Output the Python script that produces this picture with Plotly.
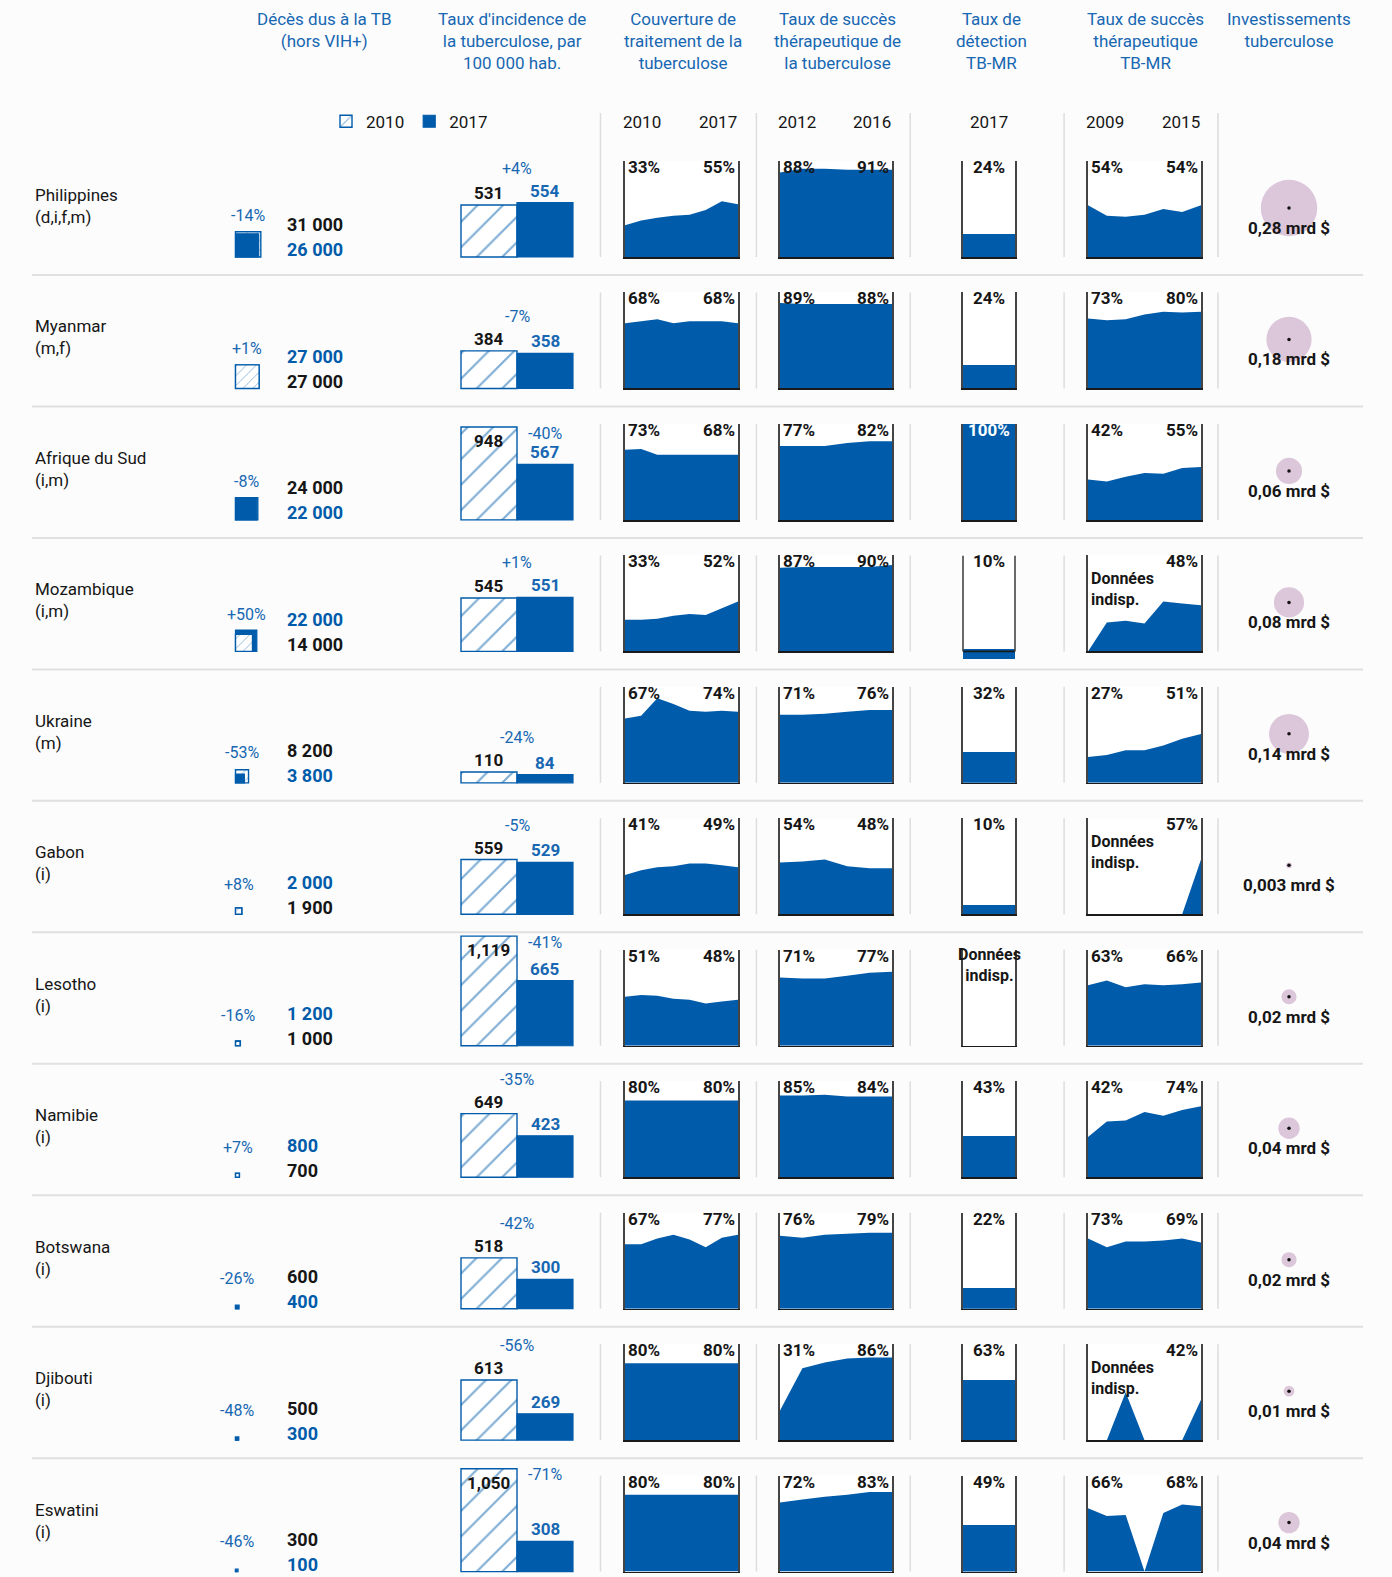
import plotly.graph_objects as go

# ---------------- DATA ----------------
countries = ["Philippines", "Myanmar", "Afrique du Sud", "Mozambique", "Ukraine", "Gabon",
             "Lesotho", "Namibie", "Botswana", "Djibouti", "Eswatini"]
country_notes = ["(d,i,f,m)", "(m,f)", "(i,m)", "(i,m)", "(m)", "(i)", "(i)", "(i)", "(i)", "(i)", "(i)"]

deaths_2010 = [31000, 27000, 24000, 14000, 8200, 1900, 1000, 700, 600, 500, 300]
deaths_2017 = [26000, 27000, 22000, 22000, 3800, 2000, 1200, 800, 400, 300, 100]
deaths_change = ["-14%", "+1%", "-8%", "+50%", "-53%", "+8%", "-16%", "+7%", "-26%", "-48%", "-46%"]

incidence_2010 = [531, 384, 948, 545, 110, 559, 1119, 649, 518, 613, 1050]
incidence_2017 = [554, 358, 567, 551, 84, 529, 665, 423, 300, 269, 308]
incidence_change = ["+4%", "-7%", "-40%", "+1%", "-24%", "-5%", "-41%", "-35%", "-42%", "-56%", "-71%"]

coverage_years = [2010, 2011, 2012, 2013, 2014, 2015, 2016, 2017]
coverage = [
    [33, 38, 41, 43, 44, 49, 58, 55],
    [68, 70, 72, 68, 70, 70, 70, 68],
    [73, 74, 68, 68, 68, 68, 68, 68],
    [33, 33, 34, 37, 39, 38, 45, 52],
    [67, 70, 88, 82, 75, 74, 75, 74],
    [41, 46, 49, 50, 53, 53, 51, 49],
    [51, 53, 52, 49, 48, 44, 46, 48],
    [80, 80, 80, 80, 80, 80, 80, 80],
    [67, 67, 73, 77, 72, 64, 74, 77],
    [80, 80, 80, 80, 80, 80, 80, 80],
    [80, 80, 80, 80, 80, 80, 80, 80],
]

success_years = [2011, 2012, 2013, 2014, 2015, 2016]
success = [
    [88, 92, 92, 91, 91, 91],
    [89, 88, 88, 88, 88, 88],
    [77, 77, 77, 80, 82, 82],
    [87, 88, 88, 88, 88, 90],
    [71, 71, 72, 74, 76, 76],
    [54, 55, 57, 50, 48, 48],
    [71, 70, 70, 73, 76, 77],
    [85, 85, 86, 84, 84, 84],
    [76, 74, 77, 78, 79, 79],
    [31, 75, 81, 85, 86, 86],
    [72, 75, 78, 80, 83, 83],
]

detection_2017 = [24, 24, 100, 10, 32, 10, None, 43, 22, 63, 49]

mdr_years = [2009, 2010, 2011, 2012, 2013, 2014, 2015]
mdr_success = [
    [54, 43, 42, 44, 50, 47, 54],
    [73, 71, 72, 77, 80, 79, 80],
    [42, 40, 45, 49, 48, 54, 55],
    [0, 30, 32, 29, 52, 50, 48],
    [27, 29, 34, 34, 39, 46, 51],
    [0, 0, 0, 0, 0, 0, 57],
    [63, 68, 61, 64, 63, 64, 66],
    [42, 58, 59, 68, 64, 70, 74],
    [73, 64, 70, 70, 71, 73, 69],
    [0, 0, 50, 0, 0, 0, 42],
    [66, 58, 59, 0, 61, 70, 68],
]

investment_bn = [0.28, 0.18, 0.06, 0.08, 0.14, 0.003, 0.02, 0.04, 0.02, 0.01, 0.04]

headers = ["Décès dus à la TB<br>(hors VIH+)",
           "Taux d'incidence de<br>la tuberculose, par<br>100 000 hab.",
           "Couverture de<br>traitement de la<br>tuberculose",
           "Taux de succès<br>thérapeutique de<br>la tuberculose",
           "Taux de<br>détection<br>TB-MR",
           "Taux de succès<br>thérapeutique<br>TB-MR",
           "Investissements<br>tuberculose"]
year_labels = [("2010", "2017"), ("2012", "2016"), ("2017",), ("2009", "2015")]
NA_TEXT = "Données<br>indisp."

# ---------------- STYLE / LAYOUT ----------------
W, H = 1392, 1577
BLUE = "#005BAA"
TXT_BLUE = "#1767B2"
DARK = "#161616"
FONT = "Roboto, 'Open Sans', sans-serif"
BG = "#fcfcfc"

ROW_TOP0 = 161.0
ROW_PITCH = 131.46
PANEL_H = 96.0

COV_X = (625, 738)
SUC_X = (780, 892)
DET_X = (963, 1015)
MDR_X = (1088, 1201)
INC_X = (461, 573)
DEATH_X0 = 235.5
INV_X = 1289
DIVIDERS_X = [600.5, 756.4, 910.2, 1064.1, 1218]
HEADER_X = [324, 512, 683, 837, 991, 1145, 1289]

SQ_K = 0.1438     # px per sqrt(death)
INC_K = 0.098     # px per incidence unit
INV_K = 106.6     # px diameter per sqrt(bn $)
MOZ_DET_SHIFT = {"Mozambique": -8}
PAD = 2


def px_x(p):
    return min(max(p / W, 0), 1)


def px_y(p):
    return min(max(1 - p / H, 0), 1)


fig = go.Figure()
layout_axes = {}
annotations = []
shapes = []
axis_n = [0]


def new_axes(x0, x1, ytop, ybot, xr, yr, frame=False):
    axis_n[0] += 1
    n = axis_n[0]
    s = "" if n == 1 else str(n)
    common = dict(showgrid=False, zeroline=False, showticklabels=False, ticks="",
                  fixedrange=True, showline=False)
    xa = dict(common, domain=[px_x(x0), px_x(x1)], range=xr, anchor="y" + s)
    ya = dict(common, domain=[px_y(ybot), px_y(ytop)], range=yr, anchor="x" + s)
    if frame:
        xa.update(showline=True, linecolor="#1a1a1a", linewidth=1.6)
        ya.update(showline=True, mirror=True, linecolor="#444444", linewidth=1.6)
        shapes.append(dict(type="rect", xref="x" + s + " domain", yref="y" + s + " domain",
                           x0=0, x1=1, y0=0, y1=1, fillcolor="white", line=dict(width=0), layer="below"))
    layout_axes["xaxis" + s] = xa
    layout_axes["yaxis" + s] = ya
    return "x" + s, "y" + s


def ann(text, x, y, xref="paper", yref="paper", size=17, color=DARK, bold=False,
        xanchor="center", yanchor="middle", xshift=0, yshift=0):
    annotations.append(dict(
        text=f"<b>{text}</b>" if bold else text, x=x, y=y, xref=xref, yref=yref,
        showarrow=False, font=dict(size=size, color=color, family=FONT),
        xanchor=xanchor, yanchor=yanchor, xshift=xshift, yshift=yshift,
        align="left" if xanchor == "left" else ("right" if xanchor == "right" else "center")))


def hatch_marker(size):
    return dict(color="white", line=dict(color=BLUE, width=1.4),
                pattern=dict(shape="/", fgcolor=BLUE, bgcolor="white", size=size, solidity=0.12))


solid_marker = dict(color=BLUE, line=dict(color=BLUE, width=1.2))

# ---------------- HEADER ----------------
for hx, htext in zip(HEADER_X, headers):
    ann(htext, px_x(hx), px_y(7), size=17, color=TXT_BLUE, yanchor="top")

YEAR_Y = px_y(121.7)
for (x0, x1), labs in zip([COV_X, SUC_X, DET_X, MDR_X], year_labels):
    if len(labs) == 2:
        ann(labs[0], px_x(x0 + 17), YEAR_Y, size=17, color=DARK)
        ann(labs[1], px_x(x1 - 20), YEAR_Y, size=17, color=DARK)
    else:
        ann(labs[0], px_x((x0 + x1) / 2), YEAR_Y, size=17, color=DARK)

# ---------------- ROWS ----------------
for i, name in enumerate(countries):
    top = ROW_TOP0 + ROW_PITCH * i
    bot = top + PANEL_H

    # country name
    ann(name, px_x(33), px_y(top + 34), size=17, color=DARK, xanchor="left")
    ann(country_notes[i], px_x(33), px_y(top + 56), size=17, color=DARK, xanchor="left")

    # ---- deaths squares (1 axis unit = 1 px) ----
    xa, ya = new_axes(DEATH_X0 - PAD, DEATH_X0 + 50, bot - 50, bot + PAD, [-PAD, 50], [-PAD, 50])
    s10 = SQ_K * deaths_2010[i] ** 0.5
    s17 = SQ_K * deaths_2017[i] ** 0.5
    items = [("2010", s10, hatch_marker(7)), ("2017", s17, solid_marker)]
    if deaths_2017[i] >= deaths_2010[i]:
        items = items[::-1]
    for yr, s, mk in items:
        fig.add_trace(go.Bar(x=[s / 2], y=[s], width=[s], base=0, marker=mk, xaxis=xa, yaxis=ya,
                             showlegend=False, hoverinfo="skip"))
    smax = max(s10, s17)
    ann(deaths_change[i], smax / 2, max(smax + 16, 30), xref=xa, yref=ya, size=16, color=TXT_BLUE)
    up = deaths_2017[i] >= deaths_2010[i]
    v_top, v_bot = (deaths_2017[i], deaths_2010[i]) if up else (deaths_2010[i], deaths_2017[i])
    c_top, c_bot = (BLUE, DARK) if up else (DARK, BLUE)
    fmt = lambda v: f"{v:,}".replace(",", " ")
    ann(fmt(v_top), px_x(284.6), px_y(bot - 32), size=18, color=c_top, bold=True, xanchor="left")
    ann(fmt(v_bot), px_x(284.6), px_y(bot - 7), size=18, color=c_bot, bold=True, xanchor="left")

    # ---- incidence bars ----
    ih = 135
    unit_px = (INC_X[1] - INC_X[0]) / 2.0
    xa, ya = new_axes(INC_X[0] - PAD, INC_X[1] + PAD, bot - ih, bot + PAD,
                      [-0.5 - PAD / unit_px, 1.5 + PAD / unit_px], [-PAD / INC_K, ih / INC_K])
    fig.add_trace(go.Bar(x=[0], y=[incidence_2010[i]], width=[1], marker=hatch_marker(18),
                         xaxis=xa, yaxis=ya, name="2010", showlegend=(i == 0), legendgroup="2010",
                         hoverinfo="skip"))
    fig.add_trace(go.Bar(x=[1], y=[incidence_2017[i]], width=[1], marker=solid_marker,
                         xaxis=xa, yaxis=ya, name="2017", showlegend=(i == 0), legendgroup="2017",
                         hoverinfo="skip"))
    v10, v17 = incidence_2010[i], incidence_2017[i]
    lab10 = f"{v10:,}"
    tall = v10 * INC_K > 80
    if tall:
        ann(lab10, 0, v10, xref=xa, yref=ya, size=17, color=DARK, bold=True, yanchor="top", yshift=-2)
        ann(incidence_change[i], 1, v10, xref=xa, yref=ya, size=16, color=TXT_BLUE, yanchor="middle", yshift=-6)
    else:
        ann(lab10, 0, v10, xref=xa, yref=ya, size=17, color=DARK, bold=True, yanchor="bottom", yshift=0)
        ann(incidence_change[i], 0.5, max(v10, v17), xref=xa, yref=ya, size=16, color=TXT_BLUE,
            yanchor="bottom", yshift=23)
    ann(str(v17), 1, v17, xref=xa, yref=ya, size=17, color=TXT_BLUE, bold=True, yanchor="bottom", yshift=0)

    # ---- area panels ----
    for (x0, x1), years, vals in [(COV_X, coverage_years, coverage[i]),
                                  (SUC_X, success_years, success[i]),
                                  (MDR_X, mdr_years, mdr_success[i])]:
        xa, ya = new_axes(x0, x1, top, bot, [years[0], years[-1]], [0, 100], frame=True)
        fig.add_trace(go.Scatter(x=years, y=vals, fill="tozeroy", mode="none", fillcolor=BLUE,
                                 xaxis=xa, yaxis=ya, showlegend=False, hoverinfo="skip"))
        if vals[0] == 0:
            ann(NA_TEXT, 0, 1, xref=xa + " domain", yref=ya + " domain", size=16, bold=True,
                xanchor="left", yanchor="top", xshift=1, yshift=-12)
        else:
            ann(f"{vals[0]}%", 0, 1, xref=xa + " domain", yref=ya + " domain", size=17, bold=True,
                xanchor="left", yanchor="top", xshift=1, yshift=6)
        ann(f"{vals[-1]}%", 1, 1, xref=xa + " domain", yref=ya + " domain", size=17, bold=True,
            xanchor="right", yanchor="top", xshift=-1, yshift=6)

    # ---- detection bar ----
    shift = MOZ_DET_SHIFT.get(name, 0)
    if shift:
        ext = -shift * PANEL_H / 100 + 2.5
        xa, ya = new_axes(DET_X[0], DET_X[1], top, bot + ext, [-0.5, 0.5],
                          [-(ext * 100 / PANEL_H), 100])
        shapes.append(dict(type="rect", xref=xa + " domain", yref=ya,
                           x0=0, x1=1, y0=0, y1=100, fillcolor="white", line=dict(width=0), layer="below"))
        shapes.append(dict(type="line", xref=xa + " domain", yref=ya, x0=0, x1=1, y0=0, y1=0,
                           line=dict(color="#1a1a1a", width=1.6), layer="above"))
        for sx in (0, 1):
            shapes.append(dict(type="line", xref=xa + " domain", yref=ya, x0=sx, x1=sx, y0=0, y1=100,
                               line=dict(color="#444444", width=1.6), layer="above"))
    else:
        xa, ya = new_axes(DET_X[0], DET_X[1], top, bot, [-0.5, 0.5], [0, 100], frame=True)
    dv = detection_2017[i]
    if dv is not None:
        fig.add_trace(go.Bar(x=[0], y=[dv], base=shift, width=[1], marker=dict(color=BLUE, line=dict(width=0)),
                             xaxis=xa, yaxis=ya, showlegend=False, hoverinfo="skip"))
        ann(f"{dv}%", 0.5, 1, xref=xa + " domain", yref=ya + " domain", size=17, bold=True,
            color="white" if dv >= 95 else DARK, yanchor="top", yshift=6)
    else:
        # empty trace keeps the (empty) box drawn
        fig.add_trace(go.Scatter(x=[0], y=[None], mode="markers", xaxis=xa, yaxis=ya,
                                 showlegend=False, hoverinfo="skip"))
        ann(NA_TEXT, 0.5, 1, xref=xa + " domain", yref=ya + " domain", size=16, bold=True,
            yanchor="top", yshift=7)

    # ---- investment bubble ----
    cy = top + 47
    xa, ya = new_axes(INV_X - 30, INV_X + 30, cy - 30, cy + 30, [-1, 1], [-1, 1])
    inv = investment_bn[i]
    fig.add_trace(go.Scatter(x=[0], y=[0], mode="markers", cliponaxis=False,
                             marker=dict(size=INV_K * inv ** 0.5, color="#dcc6da", line=dict(width=0)),
                             xaxis=xa, yaxis=ya, showlegend=False, hoverinfo="skip"))
    fig.add_trace(go.Scatter(x=[0], y=[0], mode="markers", cliponaxis=False,
                             marker=dict(size=3.5, color="#111111", line=dict(width=0)),
                             xaxis=xa, yaxis=ya, showlegend=False, hoverinfo="skip"))
    inv_txt = f"{inv}".replace(".", ",") + " mrd $"
    ann(inv_txt, 0, 0, xref=xa, yref=ya, size=17, bold=True, yshift=-20)

    # ---- dividers ----
    for dx in DIVIDERS_X:
        shapes.append(dict(type="line", xref="paper", yref="paper", x0=px_x(dx), x1=px_x(dx),
                           y0=px_y(113 if i == 0 else top), y1=px_y(bot),
                           line=dict(color="#dddddd", width=1.5), layer="below"))
    # ---- row separator ----
    if i < len(countries) - 1:
        sy = bot + 18
        shapes.append(dict(type="line", xref="paper", yref="paper", x0=px_x(32), x1=px_x(1363),
                           y0=px_y(sy), y1=px_y(sy), line=dict(color="#e0e0e0", width=2), layer="below"))

fig.update_layout(
    width=W, height=H,
    margin=dict(l=0, r=0, t=0, b=0),
    paper_bgcolor=BG, plot_bgcolor="rgba(0,0,0,0)",
    barmode="overlay", bargap=0,
    font=dict(family=FONT, color=DARK, size=17),
    showlegend=True,
    legend=dict(orientation="h", x=px_x(326), y=px_y(121.7), xanchor="left", yanchor="middle",
                font=dict(size=17, color=DARK, family=FONT), bgcolor="rgba(0,0,0,0)",
                itemclick=False, itemdoubleclick=False, traceorder="normal"),
    annotations=annotations,
    shapes=shapes,
    hovermode=False,
    **layout_axes,
)

fig.write_html("out.html", config={"displayModeBar": False, "staticPlot": True},
               post_script="document.body.style.margin='0';document.body.style.background='#fcfcfc';")
